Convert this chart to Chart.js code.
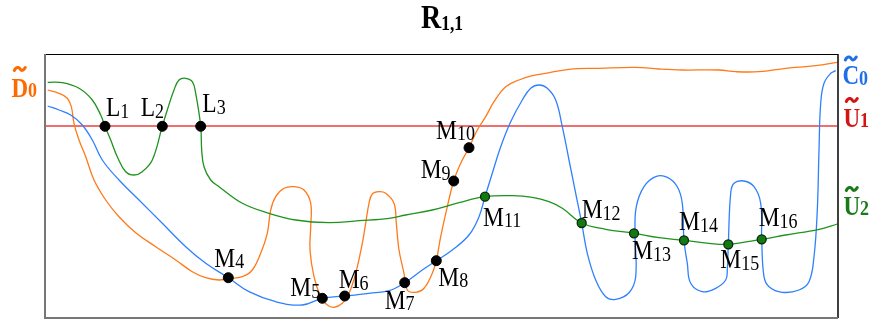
<!DOCTYPE html>
<html>
<head>
<meta charset="utf-8">
<script src="https://cdn.jsdelivr.net/npm/chart.js@4.4.1/dist/chart.umd.min.js"></script>
<style>
html,body{margin:0;padding:0;background:#fff;}
#wrap{width:875px;height:325px;position:relative;}
</style>
</head>
<body>
<div id="wrap"><canvas id="c" width="875" height="325"></canvas></div>
<script>
// ---- data (x: horizontal units, y: vertical units, origin bottom-left of frame) ----
const titleText = ['R', '1,1'];
const seriesNames = [['D', '0'], ['C', '0'], ['U', '1'], ['U', '2']];

const curveD0 = [
 [2.7,228],[14,224.7],[22.3,219.7],[26.3,211.3],[29,194.7],[34,178],[40.7,161.3],[49,138],[60.7,118],
 [74,101.3],[90.7,85.3],[110.7,71.3],[130.7,58],[147.3,46.3],[160.7,40.3],[174,38],[183.3,39.5],[197.3,41.3],
 [207.3,48],[215.7,64.7],[222.3,84.7],[225.7,108],[230.7,121.3],[239,129.7],[249,131.3],[259,128],
 [265.7,114.7],[265.7,91.3],[265,68],[269,41.3],[275.7,21.3],[282.3,13],[289,10.7],[297.3,14.7],
 [304,24.7],[310.7,44.7],[317.3,74.7],[320.7,94.7],[324,114.7],[327.3,124],[334,126.3],[340.7,124.7],
 [349,114.7],[351.3,94.7],[354,68],[359,44.7],[362.3,28],[370.7,25.7],[379,29.7],[387.3,44.7],
 [391.3,57.3],[395.7,81.3],[402.3,111.3],[408.7,137],[415.7,154.7],[424,170.3],[432.3,188],[440.7,201.3],
 [449,216.3],[460.7,231.3],[474,238],[487.3,242.3],[500.7,244.7],[524,248.7],[554,249.7],[590.7,250.7],
 [614,249],[637.3,248],[674,248],[690.7,246.3],[714,246.3],[740.7,249.7],[770.7,252.3],[792.3,255.7]
];
const curveC0 = [
 [2.7,212],[14,208],[25.7,203],[37.3,193],[47.3,178],[57.3,158],[74,138],[94,118],[117.3,94.7],
 [140.7,71.3],[160.7,54.7],[183.3,40.3],[204,26.3],[230.7,16.3],[257.3,13],[277.3,19.7],[299.7,22],
 [324,24.7],[344,27.3],[359.7,35.3],[377.3,48],[391.3,57.3],[407.3,68],[424,83],[434,101.3],[440,121.3],
 [447.3,144.7],[455.7,171.3],[465.7,196.3],[477.3,218],[485.7,229.7],[494,233],[502.3,229.7],[510.7,218],
 [517.3,191.3],[524,158],[530.7,124.7],[536.7,95],[542.3,64.7],[550.7,38],[560.7,21.3],[570.7,18.7],
 [584,25.3],[590.7,41.3],[590,84.7],[591.3,111.3],[599,131.3],[610.7,141.3],[622.3,140.7],[632.3,131.3],
 [637.3,114.7],[639,77.7],[642.3,54.7],[645.7,34.7],[657.3,26.3],[670.7,29.7],[680.7,38],[682.3,48],
 [683.3,73.7],[685.7,124.7],[689,134.7],[699,137],[709,131.3],[715.7,114.7],[716.7,78.7],[719,41.3],
 [724,31.3],[737.3,25.7],[754,28],[764,36.3],[769,61.3],[772.3,108],[774,168],[775.7,214.7],[779,234.7],
 [785.7,244.7],[790.7,247.3]
];
const curveU2 = [
 [2.7,235.7],[17.3,235.3],[34,229.7],[47.3,218],[55.7,203],[60,191.7],[65.7,178],[72.3,161.3],[80.7,146.3],
 [89,143],[97.3,146.3],[107.3,158],[117.3,191.7],[122.3,208],[129,228],[134,238],[140.7,239.7],[147.3,236.3],
 [150.7,224.7],[155.7,191.7],[156.7,168],[159,151.3],[165.7,138],[174,131.3],[197.3,114.7],[224,104.7],
 [250.7,98],[284,95.3],[314,97.3],[344,99.7],[360.7,103],[387.3,108],[414,115.3],[440,121.3],[467.3,122.3],
 [487.3,120.7],[504,116.3],[517.3,109.7],[536.7,95],[560.7,88.7],[589,84.7],[614,80.3],[639,77.7],
 [664,74.7],[683.3,73.7],[716.7,78.7],[740.7,83],[774,88.7],[792.3,94]
];
const lineU1 = [[0,192],[792,192]];

const pointsBlack = [
 [60,191.7],[117.3,191.7],[155.7,191.7],[183.3,40.3],[277.3,19.7],[299.7,22],[359.7,35.3],[391.3,57.3],
 [408.7,137],[424,170.3]
];
const namesBlack = [['L','1'],['L','2'],['L','3'],['M','4'],['M','5'],['M','6'],['M','7'],['M','8'],['M','9'],['M','10']];
const pointsGreen = [[440,121.3],[536.7,95],[589,84.7],[639,77.7],[683.3,73.7],[716.7,78.7]];
const namesGreen = [['M','11'],['M','12'],['M','13'],['M','14'],['M','15'],['M','16']];

// ---- styling / layout (not data) ----
const COL = {orange:'#ff7a1a', blue:'#2f80ff', green:'#1f931f', red:'#f07070',
             lOrange:'#ff6a00', lBlue:'#1f6fe8', lRed:'#d41414', lGreen:'#1a7a1a'};
// label offsets (px) relative to each point: [dx, dy] for left of main glyph / baseline
const offBlack = [[1,-10],[-21.6,-10],[1.6,-14],[-14,-11],[-32,-2],[-6,-8],[-20,26],[2,25],[-33,-3],[-33,-9]];
const offGreen = [[-2,29],[0,-5],[-2,26],[-5,-10],[-8,24],[-3,-13]];
const SY = 1.17; // vertical stretch of glyphs

function toPts(a){return a.map(p=>({x:p[0],y:p[1]}));}

function drawSub(ctx, main, sub, x, y, mainFont, subFont, color, subDy){
  ctx.save();
  ctx.translate(x, y);
  ctx.scale(1, SY);
  ctx.fillStyle = color;
  ctx.textBaseline = 'alphabetic';
  ctx.textAlign = 'left';
  ctx.font = mainFont;
  ctx.fillText(main, 0, 0);
  const w = ctx.measureText(main).width;
  ctx.font = subFont;
  ctx.fillText(sub, w, subDy/SY);
  ctx.restore();
  return w;
}
function drawTilde(ctx, cx, cy, w, color, lw){
  ctx.save();
  ctx.strokeStyle = color; ctx.lineWidth = lw; ctx.lineCap='round';
  ctx.beginPath();
  const h = w*0.22;
  ctx.moveTo(cx-w/2, cy+h*0.6);
  ctx.bezierCurveTo(cx-w/4, cy-h*1.6, cx, cy-h*0.2, cx+0.05*w, cy+0.1*h);
  ctx.bezierCurveTo(cx+w/4, cy+h*1.6, cx+w/2.2, cy-h*0.6, cx+w/2, cy-h*0.6);
  ctx.stroke();
  ctx.restore();
}

const annot = {
  id:'annot',
  afterDatasetsDraw(chart){
    const ctx = chart.ctx, a = chart.chartArea;
    const xs = chart.scales.x, ys = chart.scales.y;
    // frame
    ctx.save();
    ctx.lineWidth = 1.2; ctx.strokeStyle = '#000';
    ctx.beginPath(); ctx.moveTo(a.left, a.top+0.5); ctx.lineTo(a.right, a.top+0.5); ctx.stroke();
    ctx.lineWidth = 1.5;
    ctx.beginPath(); ctx.moveTo(a.right, a.top); ctx.lineTo(a.right, a.bottom); ctx.stroke();
    ctx.strokeStyle = '#777'; ctx.lineWidth = 2;
    ctx.beginPath(); ctx.moveTo(a.left, a.top); ctx.lineTo(a.left, a.bottom); ctx.lineTo(a.right, a.bottom); ctx.stroke();
    ctx.restore();

    const mf = '23.5px "Liberation Serif", "Times New Roman", serif';
    const sf = '18px "Liberation Serif", "Times New Roman", serif';
    pointsBlack.forEach((p,i)=>{
      const px = xs.getPixelForValue(p[0]), py = ys.getPixelForValue(p[1]);
      drawSub(ctx, namesBlack[i][0], namesBlack[i][1], px+offBlack[i][0], py+offBlack[i][1], mf, sf, '#000', 1.5);
    });
    pointsGreen.forEach((p,i)=>{
      const px = xs.getPixelForValue(p[0]), py = ys.getPixelForValue(p[1]);
      drawSub(ctx, namesGreen[i][0], namesGreen[i][1], px+offGreen[i][0], py+offGreen[i][1], mf, sf, '#000', 1.5);
    });

    // title
    const cx = (a.left + a.right)/2;
    drawSub(ctx, titleText[0], titleText[1], cx-20.5, 28.3,
      'bold 28px "Liberation Serif", serif', 'bold 17.5px "Liberation Serif", serif', '#000', 2);

    // series labels
    const bf = 'bold 23px "Liberation Serif", serif', bs = 'bold 18px "Liberation Serif", serif';
    let w;
    w = drawSub(ctx, seriesNames[0][0], seriesNames[0][1], 11.5, 96.5, bf, bs, COL.lOrange, 0.8);
    drawTilde(ctx, 11.5+w/2, 69, 11, COL.lOrange, 3);
    w = drawSub(ctx, seriesNames[1][0], seriesNames[1][1], a.right+4.5, 83.5, bf, bs, COL.lBlue, 1.5);
    drawTilde(ctx, a.right+4.5+w/2, 58.5, 11, COL.lBlue, 3);
    w = drawSub(ctx, seriesNames[2][0], seriesNames[2][1], a.right+5.5, 126.7, bf, bs, COL.lRed, 0);
    drawTilde(ctx, a.right+5.5+w/2, 100, 11, COL.lRed, 3);
    w = drawSub(ctx, seriesNames[3][0], seriesNames[3][1], a.right+5.5, 215, bf, bs, COL.lGreen, 0);
    drawTilde(ctx, a.right+5.5+w/2, 189, 11, COL.lGreen, 3);
  }
};

const lineDs = (data, color, w) => ({data: toPts(data), showLine:true, borderColor:color, borderWidth:w,
  pointRadius:0, tension:0.4, fill:false});

new Chart(document.getElementById('c'), {
  type:'scatter',
  data:{datasets:[
    {data: toPts(pointsBlack), showLine:false, pointRadius:5, pointBackgroundColor:'#000', pointBorderColor:'#000', pointBorderWidth:1},
    {data: toPts(pointsGreen), showLine:false, pointRadius:4.5, pointBackgroundColor:'#137a13', pointBorderColor:'#0a2a0a', pointBorderWidth:1.3},
    lineDs(curveU2, COL.green, 1.3),
    lineDs(curveC0, COL.blue, 1.3),
    lineDs(curveD0, COL.orange, 1.3),
    lineDs(lineU1, COL.red, 2)
  ]},
  options:{
    responsive:false, animation:false, events:[],
    layout:{padding:{left:45, right:37, top:54, bottom:7}},
    plugins:{legend:{display:false}, tooltip:{enabled:false}, title:{display:false}},
    scales:{
      x:{type:'linear', display:false, min:0, max:793},
      y:{type:'linear', display:false, min:0, max:264}
    }
  },
  plugins:[annot]
});
</script>
</body>
</html>
